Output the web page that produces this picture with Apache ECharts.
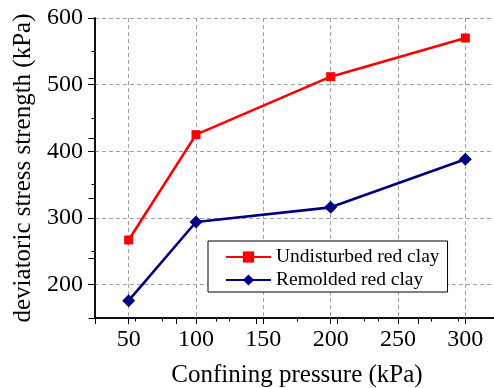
<!DOCTYPE html>
<html>
<head>
<meta charset="utf-8">
<script src="https://cdn.jsdelivr.net/npm/echarts@6/dist/echarts.min.js"></script>
<style>html,body{margin:0;padding:0;background:#fff}#c{width:494px;height:388px}</style>
</head>
<body>
<div id="c"></div>
<script>
const pressure = [50, 100, 200, 300];
const undisturbed = [267, 425, 512, 570];
const remolded = [176, 294, 316, 388];
const xMajorTicks = [50, 100, 150, 200, 250, 300];
const yMajorTicks = [200, 300, 400, 500, 600];
const seriesNames = ['Undisturbed red clay', 'Remolded red clay'];

const FONT = 'Liberation Serif';
const G = {left: 95, top: 18, width: 404, height: 300, outerBoundsMode: 'none', containLabel: false};
const chart = echarts.init(document.getElementById('c'), null, {renderer: 'canvas'});
const gridLine = {show: true, lineStyle: {color: ['rgba(0,0,0,0)', '#a0a0a0'], type: [4, 3], width: 1}};
const blackLine = {show: true, lineStyle: {color: '#000', width: 1.5}};

chart.setOption({
  animation: false,
  grid: [Object.assign({}, G), Object.assign({}, G), Object.assign({}, G)],
  xAxis: [
    {gridIndex: 0, type: 'value', position: 'bottom', min: 25, max: 325, interval: 25,
     axisLine: blackLine, axisTick: {show: true, inside: false, length: 3.5, lineStyle: {color: '#000', width: 1}},
     axisLabel: {margin: 10, fontFamily: FONT, fontSize: 24, color: '#000',
       formatter: v => (v % 50 === 0 ? String(v) : '')},
     splitLine: gridLine,
     name: 'Confining pressure (kPa)', nameLocation: 'middle', nameGap: 45,
     nameTextStyle: {fontFamily: FONT, fontSize: 25, color: '#000'}},
    {gridIndex: 1, type: 'value', position: 'bottom', min: 25, max: 325,
     axisLine: {show: false}, axisTick: {show: true, inside: false, length: 6, customValues: xMajorTicks, lineStyle: {color: '#000', width: 1}},
     axisLabel: {show: false}, splitLine: {show: false}},
    {gridIndex: 2, type: 'value', position: 'top', min: 0, max: 10, interval: 2,
     axisLine: blackLine, axisTick: {show: true, inside: true, length: 6, lineStyle: {color: '#000', width: 1}},
     minorTick: {show: true, splitNumber: 2, length: 3.5, lineStyle: {color: '#000', width: 1}},
     axisLabel: {show: false}, splitLine: {show: false}}
  ],
  yAxis: [
    {gridIndex: 0, type: 'value', position: 'left', min: 150, max: 600, interval: 50,
     axisLine: blackLine, axisTick: {show: true, inside: false, length: 3.5, lineStyle: {color: '#000', width: 1}},
     axisLabel: {margin: 12, fontFamily: FONT, fontSize: 24, color: '#000',
       formatter: v => (v % 100 === 0 ? String(v) : '')},
     splitLine: gridLine,
     name: 'deviatoric stress strength (kPa)', nameLocation: 'middle', nameGap: 59,
     nameTextStyle: {fontFamily: FONT, fontSize: 25, color: '#000'}},
    {gridIndex: 1, type: 'value', position: 'left', min: 150, max: 600,
     axisLine: {show: false}, axisTick: {show: true, inside: false, length: 7, customValues: yMajorTicks, lineStyle: {color: '#000', width: 1}},
     axisLabel: {show: false}, splitLine: {show: false}},
    {gridIndex: 2, type: 'value', position: 'right', min: 0, max: 5, interval: 1,
     axisLine: blackLine, axisTick: {show: true, inside: true, length: 6.5, lineStyle: {color: '#000', width: 1}},
     axisLabel: {show: false}, splitLine: {show: false}}
  ],
  legend: {
    left: 208, top: 241, orient: 'vertical',
    padding: [6, 8, 2, 17], itemGap: 3, itemWidth: 45, itemHeight: 14,
    borderColor: '#000', borderWidth: 1, backgroundColor: '#fff',
    textStyle: {fontFamily: FONT, fontSize: 19.5, color: '#000', lineHeight: 20},
    data: seriesNames
  },
  series: [
    {name: seriesNames[0], type: 'line', xAxisIndex: 0, yAxisIndex: 0,
     data: pressure.map((p, i) => [p, undisturbed[i]]),
     symbol: 'rect', symbolSize: 9, showSymbol: true,
     lineStyle: {color: '#ff0000', width: 2.6}, itemStyle: {color: '#ff0000'}},
    {name: seriesNames[1], type: 'line', xAxisIndex: 0, yAxisIndex: 0,
     data: pressure.map((p, i) => [p, remolded[i]]),
     symbol: 'diamond', symbolSize: 13, showSymbol: true,
     lineStyle: {color: '#000080', width: 2.6}, itemStyle: {color: '#000080'}}
  ]
});
</script>
</body>
</html>
